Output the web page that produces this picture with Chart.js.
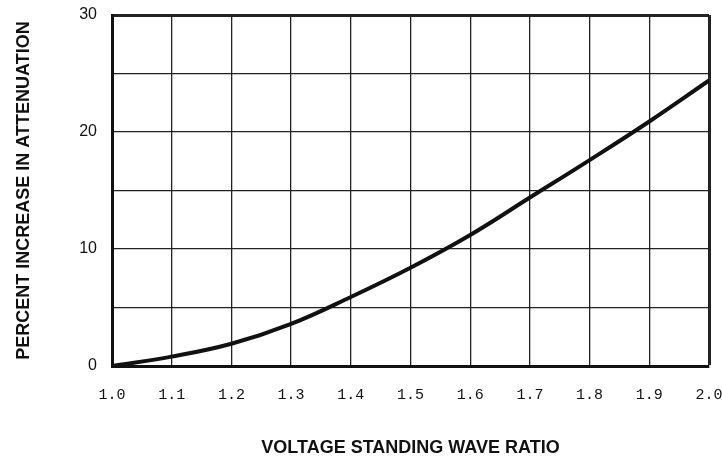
<!DOCTYPE html>
<html>
<head>
<meta charset="utf-8">
<script src="https://cdn.jsdelivr.net/npm/chart.js@4"></script>
<style>
  html, body { margin: 0; padding: 0; background: #fff; }
  #wrap { width: 722px; height: 460px; }
</style>
</head>
<body>
<div id="wrap"><canvas id="vswr-chart"></canvas></div>
<script>
// values
const vswr = [1.0, 1.1, 1.2, 1.3, 1.4, 1.5, 1.6, 1.7, 1.8, 1.9, 2.0];
const attenIncrease = [0, 0.8, 1.9, 3.6, 5.9, 8.4, 11.2, 14.4, 17.6, 20.9, 24.4];
const yLabels = [0, 10, 20, 30];

const chartEl = document.getElementById("vswr-chart");

// heavier line for the outer frame (top and right edges)
const frameWidth = (ctx) => (ctx.index === ctx.scale.ticks.length - 1 ? 3 : 1.3);

new Chart(chartEl, {
  type: "line",
  data: {
    datasets: [
      {
        label: "Percent increase",
        data: vswr.map((x, i) => ({ x: x, y: attenIncrease[i] })),
        borderColor: "#111",
        borderWidth: 4,
        pointRadius: 0,
        tension: 0.4,
        fill: false,
      },
    ],
  },
  options: {
    responsive: true,
    maintainAspectRatio: false,
    animation: false,
    layout: {
      padding: { left: 0, right: 13, top: 15, bottom: 0 },
    },
    plugins: {
      legend: { display: false },
      tooltip: { enabled: false },
    },
    scales: {
      x: {
        type: "linear",
        min: 1.0,
        max: 2.0,
        afterFit: (scale) => {
          scale.height = 94;
          scale.paddingLeft = 0;
          scale.paddingRight = 0;
        },
        ticks: {
          stepSize: 0.1,
          padding: 20,
          color: "#111",
          font: { family: "'Liberation Mono', 'DejaVu Sans Mono', monospace", size: 15 },
          callback: (v) => v.toFixed(1),
        },
        grid: { color: "#222", lineWidth: frameWidth, drawTicks: false },
        border: { color: "#111", width: 3 },
        title: {
          display: true,
          text: "VOLTAGE STANDING WAVE RATIO",
          color: "#111",
          font: { family: "'Liberation Sans', Arial, sans-serif", size: 18, weight: "bold" },
          padding: { top: 0, bottom: 1 },
        },
      },
      y: {
        min: 0,
        max: 30,
        afterFit: (scale) => {
          scale.width = 112;
          scale.paddingTop = 0;
          scale.paddingBottom = 0;
        },
        ticks: {
          stepSize: 5,
          padding: 15,
          color: "#111",
          font: { family: "'Liberation Sans', Arial, sans-serif", size: 16 },
          callback: (v) => (yLabels.includes(v) ? v : ""),
        },
        grid: { color: "#222", lineWidth: frameWidth, drawTicks: false },
        border: { color: "#111", width: 3 },
        title: {
          display: true,
          text: "PERCENT INCREASE IN ATTENUATION",
          color: "#111",
          font: { family: "'Liberation Sans', Arial, sans-serif", size: 18, weight: "bold" },
          padding: { top: 13, bottom: 0 },
        },
      },
    },
  },
});
</script>
</body>
</html>
